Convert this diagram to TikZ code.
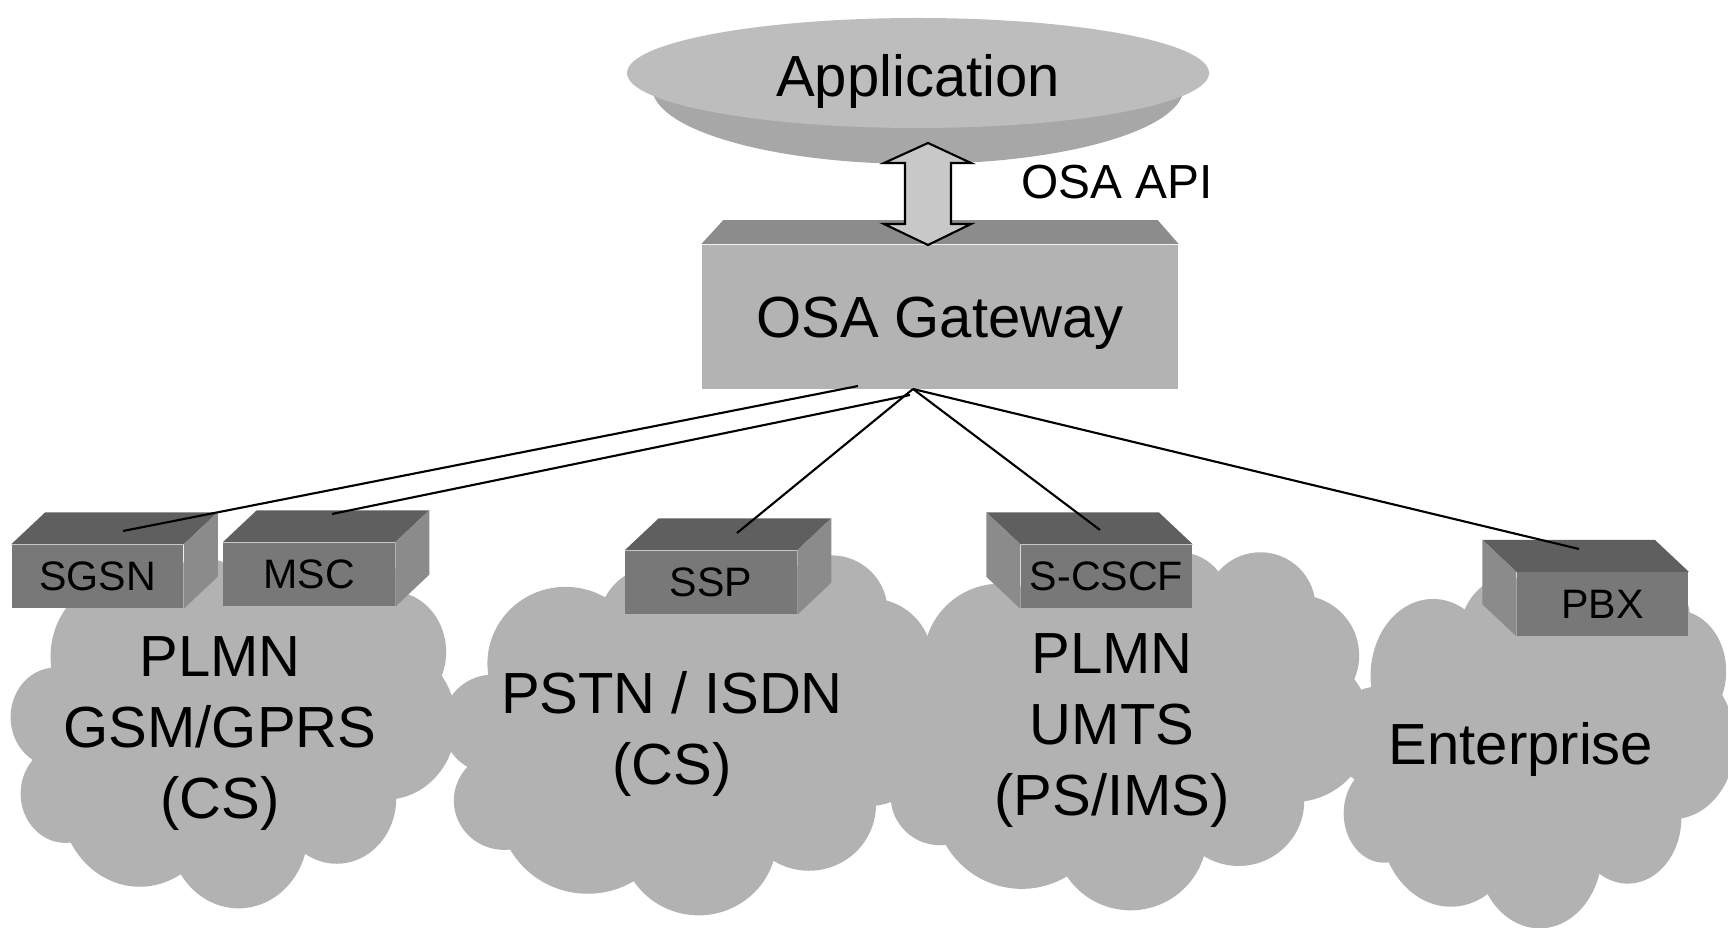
\documentclass[tikz,border=0pt]{standalone}
\usepackage{fontspec}
\setmainfont{Liberation Sans}
\definecolor{cloudgray}{HTML}{B2B2B2}
\definecolor{apptop}{HTML}{BDBDBD}
\definecolor{apprim}{HTML}{A7A7A7}
\definecolor{gwfront}{HTML}{B3B3B3}
\definecolor{gwtop}{HTML}{8C8C8C}
\definecolor{apifill}{HTML}{C8C8C8}
\definecolor{boxdark}{HTML}{5F5F5F}
\definecolor{boxmid}{HTML}{787878}
\definecolor{boxlight}{HTML}{8B8B8B}
% cloud outline, drawn in a 432 x 432 frame
\newcommand{\osacloud}[4]{%
  \fill[cloudgray, shift={(#1,#2)}, xscale=#3/432, yscale=#4/432]
    (39,143.7)
    arc[x radius=67.53, y radius=91.90, start angle=-187.75, delta angle=128.11]
    arc[x radius=53.33, y radius=72.67, start angle=-152.03, delta angle=106.61]
    arc[x radius=43.65, y radius=59.45, start angle=-153.48, delta angle=116.15]
    arc[x radius=48.57, y radius=65.95, start angle=-139.68, delta angle=129.47]
    arc[x radius=53.33, y radius=72.73, start angle=-74.77, delta angle=97.98]
    arc[x radius=67.75, y radius=92.20, start angle=-37.52, delta angle=119.38]
    arc[x radius=57.85, y radius=78.67, start angle=0.46, delta angle=121.52]
    arc[x radius=67.52, y radius=92.15, start angle=16.85, delta angle=129.40]
    arc[x radius=77.20, y radius=105.43, start angle=58.99, delta angle=91.22]
    arc[x radius=43.60, y radius=59.18, start angle=-276.69, delta angle=139.79]
    arc[x radius=43.45, y radius=59.45, start angle=-239.65, delta angle=143.76]
    -- cycle;}
% top and side faces of a network box
\newcommand{\netbox}[2]{%
  \fill[boxdark] (#1.north west) -- ++(#2,-32) -- ([shift={(#2,-32)}]#1.north east) -- (#1.north east) -- cycle;
  \ifdim#2pt>0pt
    \fill[boxlight] (#1.north east) -- ++(#2,-32) -- ([shift={(#2,-32)}]#1.south east) -- (#1.south east) -- cycle;
  \else
    \fill[boxlight] (#1.north west) -- ++(#2,-32) -- ([shift={(#2,-32)}]#1.south west) -- (#1.south west) -- cycle;
  \fi}
\tikzset{
  bigtext/.style={font=\fontsize{16.5}{20.2}\selectfont, align=center, inner sep=0pt},
  boxfront/.style={fill=boxmid, minimum width=1.71cm, minimum height=0.63cm,
    inner sep=0pt, font=\fontsize{11.7}{14}\selectfont},
  gwbox/.style={fill=gwfront, minimum width=4.76cm, minimum height=1.44cm,
    inner sep=0pt, text depth=0pt, font=\fontsize{16.5}{20}\selectfont},
  link/.style={line width=0.6pt}
}

\begin{document}
\begin{tikzpicture}[x=0.01cm, y=-0.01cm]
  \useasboundingbox (0,0) rectangle (1728,928);
  \clip (0,0) rectangle (1728,928);
  % clouds
  \osacloud{11}{547}{445}{360}
  \osacloud{443}{554}{500}{360}
  \osacloud{880}{551}{490}{358}
  \osacloud{1335}{566}{400}{361}
  \node[bigtext] (gsm) at (220,734) {PLMN\\GSM/GPRS\\(CS)};
  \node[bigtext] (pstn) at (672,734) {PSTN / ISDN\\(CS)};
  \node[bigtext] (umts) at (1112,731) {PLMN\\UMTS\\(PS/IMS)};
  \node[bigtext, anchor=base] (ent) at (1521,764) {Enterprise};
  % application
  \fill[apprim] (627,73) -- (652,87) arc[start angle=180, end angle=0, x radius=266, y radius=77]
    -- (1210,73) -- cycle;
  \fill[apptop] (918,73) ellipse[x radius=291, y radius=55];
  \node[bigtext, anchor=base] (app) at (918,97) {Application};
  % gateway
  \node[gwbox] (gw) at (940,317) {OSA Gateway};
  \fill[gwtop] (gw.north west) -- ++(22,-24) -- ([shift={(-21,-24)}]gw.north east) -- (gw.north east) -- cycle;
  % OSA API
  \coordinate (apiT) at (928,143);
  \coordinate (apiB) at (928,245);
  \filldraw[fill=apifill, line width=0.6pt] (apiT) -- ++(43,20) -- ++(-20,0) -- ++(0,61) -- ++(20,0)
    -- (apiB) -- ++(-44,-21) -- ++(21,0) -- ++(0,-61) -- ++(-21,0) -- cycle;
  \node[font=\fontsize{13.6}{16}\selectfont, inner sep=0pt, anchor=base] (api) at (1117,199) {OSA API};
  % network boxes
  \node[boxfront] (sgsn) at (97.5,576.5) {SGSN};
  \netbox{sgsn}{34}
  \node[boxfront] (msc) at (309,574.5) {MSC};
  \netbox{msc}{34}
  \node[boxfront] (ssp) at (711,582.5) {SSP};
  \netbox{ssp}{34}
  \node[boxfront] (cscf) at (1106.5,576.5) {S-CSCF};
  \netbox{cscf}{-34}
  \node[boxfront] (pbx) at (1602.5,604) {PBX};
  \netbox{pbx}{-34}
  % links
  \coordinate (gwa) at (858,386);
  \coordinate (gwb) at (910,395);
  \coordinate (gwc) at (913,389);
  \coordinate (sgsnT) at (123,531);
  \coordinate (mscT) at (332,514);
  \coordinate (sspT) at (737,533);
  \coordinate (cscfT) at (1100,530);
  \coordinate (pbxT) at (1579,549);
  \draw[link] (gwa) -- (sgsnT);
  \draw[link] (gwb) -- (mscT);
  \draw[link] (gwc) -- (sspT);
  \draw[link] (gwc) -- (cscfT);
  \draw[link] (gwc) -- (pbxT);
\end{tikzpicture}
\end{document}
